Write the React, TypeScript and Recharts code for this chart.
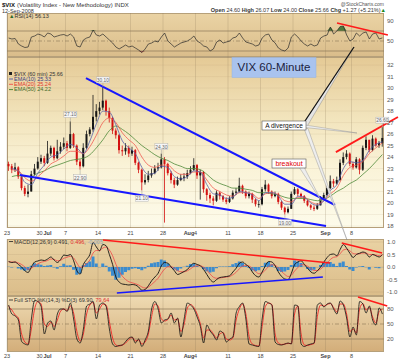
import {
  Area,
  Bar,
  ComposedChart,
  Line,
  ReferenceDot,
  ReferenceLine,
  XAxis,
  YAxis,
} from "recharts"

const FONT = '"Liberation Sans", Arial, sans-serif'

// ---- data: 60-minute bars, two points per trading day (x = trading day) ----
const firstOpen = 23.4
const closes = [
  23.2, 22.9, 23.1, 22.3, 21.3, 20.8, 21.0, 22.5, 23.0, 23.6,
  23.9, 23.5, 24.3, 24.8, 23.9, 24.5, 24.9, 25.2, 24.8, 26.0,
  25.0, 23.6, 23.2, 24.8, 26.0, 26.4, 27.5, 28.0, 28.3, 28.9,
  28.0, 27.4, 26.3, 25.9, 24.6, 24.5, 24.8, 24.3, 24.6, 23.5,
  22.9, 21.8, 22.0, 22.4, 22.6, 23.0, 23.1, 23.8, 23.4, 22.6,
  22.0, 21.6, 22.0, 22.2, 22.3, 22.6, 22.9, 23.3, 22.4, 22.7,
  21.2, 20.7, 20.4, 20.2, 20.9, 20.6, 20.3, 20.1, 20.4, 20.9,
  21.0, 21.5, 21.0, 20.6, 20.8, 20.3, 19.9, 19.9, 21.2, 21.6,
  21.0, 20.6, 20.8, 20.1, 19.6, 19.2, 19.5, 20.8, 21.2, 20.8,
  20.6, 20.2, 19.8, 19.6, 19.5, 19.8, 20.4, 20.7, 21.3, 21.9,
  21.7, 22.0, 23.5, 24.0, 24.3, 23.4, 23.1, 23.8, 22.9, 24.8,
  25.5, 24.6, 25.6, 25.0, 25.2, 25.66,
]
const highs = [
  23.6, 23.4, 23.5, 23.2, 22.4, 21.5, 21.6, 22.8, 23.4, 24.0,
  24.2, 24.1, 25.4, 25.0, 24.9, 25.5, 25.3, 25.7, 25.4, 27.1,
  26.1, 25.1, 23.8, 25.2, 26.3, 26.6, 29.4, 28.6, 28.8, 30.1,
  29.0, 28.3, 27.5, 26.5, 26.0, 25.0, 25.2, 25.0, 24.9, 24.7,
  23.6, 23.0, 22.5, 22.8, 23.0, 23.3, 23.5, 24.3, 24.0, 23.5,
  22.8, 22.2, 22.3, 22.5, 22.6, 22.9, 23.2, 23.9, 23.4, 22.9,
  22.8, 21.3, 20.9, 20.6, 21.1, 21.0, 20.7, 20.5, 20.6, 21.1,
  21.3, 22.2, 21.6, 21.1, 21.0, 20.9, 20.4, 20.2, 21.4, 22.0,
  21.7, 21.1, 21.0, 20.9, 20.2, 19.7, 19.7, 21.0, 21.4, 21.3,
  20.9, 20.7, 20.3, 19.9, 19.8, 20.0, 20.6, 20.9, 21.5, 22.4,
  22.1, 22.3, 23.8, 24.4, 24.6, 24.4, 23.6, 24.0, 23.9, 25.0,
  25.8, 25.5, 25.9, 25.7, 25.4, 26.6,
]
const lows = [
  22.8, 22.6, 22.7, 22.1, 21.1, 20.6, 20.5, 21.0, 22.4, 22.9,
  23.4, 23.2, 23.4, 24.1, 23.7, 23.8, 24.3, 24.7, 24.5, 24.7,
  24.8, 23.3, 22.9, 23.1, 24.7, 25.8, 26.2, 27.1, 27.7, 28.1,
  27.6, 27.0, 26.0, 25.6, 24.3, 24.1, 24.2, 24.0, 24.1, 23.3,
  22.6, 21.1, 21.6, 21.8, 22.2, 22.5, 22.8, 23.0, 18.3, 22.4,
  21.7, 21.3, 21.5, 21.9, 21.9, 22.1, 22.5, 22.8, 22.1, 20.3,
  20.9, 20.2, 20.0, 19.8, 20.1, 20.3, 20.1, 19.9, 20.0, 20.3,
  20.7, 20.9, 20.8, 20.4, 20.4, 20.0, 19.7, 19.6, 19.8, 21.0,
  20.8, 20.4, 20.5, 19.9, 19.4, 19.0, 19.1, 19.5, 20.7, 20.6,
  20.4, 20.0, 19.7, 19.4, 19.3, 19.4, 19.8, 20.3, 20.6, 21.2,
  21.4, 21.6, 21.9, 23.3, 23.8, 23.2, 22.9, 23.0, 22.5, 22.8,
  24.6, 24.4, 24.5, 24.9, 24.8, 24.9,
]

// moving averages, one value per trading day (end of day)
const ema10 = [
  23.0, 22.8, 21.8, 21.6, 22.6, 23.3, 24.0, 24.2, 24.7, 25.1,
  24.8, 24.3, 25.4, 26.9, 28.0, 27.9, 26.8, 25.4, 24.8, 24.3,
  23.1, 22.5, 22.6, 23.2, 23.1, 22.3, 22.1, 22.3, 22.8, 22.7,
  21.6, 20.8, 20.7, 20.4, 20.5, 21.0, 20.9, 20.7, 20.2, 20.9,
  20.9, 20.6, 19.9, 19.9, 20.6, 20.5, 20.0, 19.8, 20.2, 21.1,
  21.6, 23.0, 23.6, 23.5, 23.7, 24.6, 25.1, 25.33,
]
const ema20 = [
  22.9, 22.8, 22.2, 21.9, 22.3, 22.8, 23.4, 23.7, 24.1, 24.5,
  24.5, 24.3, 24.9, 25.9, 27.0, 27.4, 27.0, 26.1, 25.5, 25.0,
  24.0, 23.3, 23.1, 23.3, 23.3, 22.8, 22.5, 22.5, 22.7, 22.7,
  22.0, 21.3, 21.0, 20.7, 20.6, 20.9, 20.9, 20.8, 20.4, 20.8,
  20.9, 20.7, 20.2, 20.1, 20.5, 20.5, 20.1, 19.9, 20.2, 20.8,
  21.3, 22.4, 23.1, 23.3, 23.6, 24.3, 24.8, 25.24,
]
const ema50 = [
  22.3, 22.4, 22.3, 22.3, 22.6, 22.8, 23.1, 23.3, 23.5, 23.7,
  23.8, 23.9, 24.2, 24.8, 25.5, 26.3, 26.7, 26.4, 26.0, 25.5,
  25.0, 24.6, 24.2, 23.9, 23.7, 23.4, 23.2, 23.0, 23.0, 22.9,
  22.5, 22.0, 21.7, 21.5, 21.3, 21.3, 21.2, 21.1, 20.9, 20.9,
  20.8, 20.7, 20.5, 20.4, 20.4, 20.4, 20.3, 20.2, 20.3, 20.6,
  21.0, 21.3, 21.7, 22.0, 22.5, 23.0, 23.6, 24.22,
]

const rsi = [
  56, 54, 55, 44, 40, 37, 38, 58, 60, 64,
  62, 58, 66, 64, 58, 60, 62, 63, 60, 64,
  58, 40, 38, 52, 56, 58, 72, 62, 60, 64,
  58, 52, 46, 38, 34, 38, 42, 38, 40, 36,
  32, 27, 34, 44, 46, 50, 48, 58, 66, 50,
  44, 38, 42, 46, 48, 50, 54, 60, 50, 46,
  40, 38, 30, 34, 48, 52, 46, 48, 50, 56,
  58, 66, 56, 48, 46, 44, 40, 42, 56, 62,
  64, 52, 46, 36, 32, 30, 36, 58, 64, 58,
  50, 44, 40, 44, 40, 42, 56, 60, 62, 78,
  64, 70, 79, 80, 62, 50, 54, 66, 60, 66,
  68, 54, 64, 66, 54, 56.13,
]

const macd = [
  0.22, 0.18, 0.2, 0.1, 0.0, -0.15, -0.22, 0.0, 0.2, 0.24,
  0.28, 0.26, 0.32, 0.4, 0.28, 0.18, 0.3, 0.48, 0.45, 0.5,
  0.25, -0.15, -0.28, 0.1, 0.3, 0.5, 0.98, 0.8, 0.65, 0.9,
  0.85, 0.5, 0.1, -0.4, -0.6, -0.68, -0.7, -0.72, -0.7, -0.72,
  -0.8, -0.93, -0.9, -0.75, -0.55, -0.4, -0.25, 0.05, 0.18, 0.15,
  0.0, -0.15, -0.3, -0.25, -0.18, -0.1, 0.05, 0.15, 0.1, 0.05,
  -0.1, -0.3, -0.5, -0.6, -0.5, -0.42, -0.4, -0.38, -0.35, -0.2,
  -0.05, 0.15, 0.2, 0.1, 0.0, -0.2, -0.35, -0.4, -0.2, 0.05,
  0.22, 0.2, 0.05, -0.2, -0.38, -0.48, -0.5, -0.25, 0.1, 0.2,
  0.25, 0.1, -0.05, -0.2, -0.25, -0.15, 0.0, 0.2, 0.38, 0.5,
  0.52, 0.45, 0.7, 0.9, 0.75, 0.55, 0.38, 0.5, 0.55, 0.6,
  0.55, 0.4, 0.5, 0.45, 0.4, 0.491,
]
const signal = [
  0.21, 0.2, 0.2, 0.16, 0.1, 0.0, -0.09, -0.05, 0.05, 0.13,
  0.19, 0.22, 0.26, 0.32, 0.3, 0.25, 0.27, 0.35, 0.39, 0.43,
  0.36, 0.16, -0.02, 0.03, 0.14, 0.28, 0.56, 0.66, 0.66, 0.76,
  0.8, 0.68, 0.45, 0.11, -0.17, -0.37, -0.5, -0.59, -0.63, -0.67,
  -0.72, -0.8, -0.84, -0.8, -0.7, -0.58, -0.45, -0.25, -0.08, 0.01,
  0.01, -0.05, -0.15, -0.19, -0.19, -0.15, -0.07, 0.02, 0.05, 0.05,
  -0.01, -0.13, -0.28, -0.41, -0.45, -0.44, -0.42, -0.4, -0.38, -0.31,
  -0.21, -0.07, 0.04, 0.06, 0.04, -0.06, -0.18, -0.27, -0.24, -0.12,
  0.02, 0.09, 0.07, -0.04, -0.18, -0.3, -0.38, -0.33, -0.16, -0.02,
  0.09, 0.09, 0.03, -0.06, -0.14, -0.14, -0.08, 0.03, 0.17, 0.3,
  0.39, 0.41, 0.53, 0.68, 0.71, 0.65, 0.54, 0.52, 0.53, 0.56,
  0.56, 0.5, 0.5, 0.48, 0.45, 0.496,
]

const stoK = [
  88, 70, 66, 58, 15, 10, 8, 60, 97, 95,
  85, 30, 52, 56, 38, 70, 80, 80, 75, 92,
  60, 20, 12, 40, 86, 90, 95, 60, 88, 92,
  85, 40, 10, 5, 7, 8, 15, 22, 24, 12,
  20, 5, 18, 36, 80, 95, 80, 52, 58, 60,
  72, 52, 62, 24, 60, 92, 88, 80, 64, 45,
  12, 48, 36, 28, 18, 36, 32, 14, 20, 24,
  72, 85, 92, 60, 10, 8, 6, 5, 60, 95,
  92, 88, 14, 9, 8, 10, 12, 10, 88, 86,
  10, 5, 8, 10, 12, 88, 92, 84, 90, 92,
  80, 70, 96, 88, 62, 24, 44, 28, 95, 90,
  72, 86, 58, 48, 82, 69.9,
]
const stoD = [
  85, 78, 68, 62, 30, 14, 10, 40, 80, 95,
  90, 50, 45, 54, 45, 58, 76, 80, 77, 86,
  72, 35, 16, 30, 70, 88, 93, 72, 80, 90,
  88, 55, 22, 8, 6, 8, 12, 19, 23, 16,
  18, 10, 14, 30, 65, 90, 86, 60, 56, 59,
  68, 58, 60, 35, 50, 82, 89, 83, 70, 50,
  22, 38, 38, 30, 22, 30, 33, 20, 18, 22,
  58, 80, 90, 70, 25, 10, 7, 6, 45, 85,
  92, 89, 30, 12, 9, 10, 11, 11, 70, 86,
  30, 8, 7, 9, 11, 65, 88, 86, 89, 91,
  83, 74, 90, 90, 70, 35, 40, 32, 80, 91,
  78, 83, 64, 52, 75, 79.64,
]

// axis ticks (x = trading day since 23 Jun)
const weekDays = [0, 5, 9, 14, 19, 24, 29, 34, 39, 44, 49, 53]
const dateTicks = [0, 5, 6, 9, 14, 19, 24, 28, 29, 34, 39, 44, 49, 53]
const dateTickLabels = ["23", "30", "Jul", "7", "14", "21", "28", "Aug", "4", "11", "18", "25", "Sep", "8"]
const monthLabels = ["Jul", "Aug", "Sep"]
const priceTicks = [18, 19, 20, 21, 22, 23, 24, 25, 26, 27, 28, 29, 30, 31, 32]
const rsiTicks = [30, 50, 70, 90]
const macdTicks = [-1, -0.5, 0, 0.5, 1]
const stoTicks = [20, 50, 80]

// bars whose high / low carry a value tag
const tagBars = [19, 22, 29, 41, 47, 85, 115]
const tagKinds = ["high", "low", "high", "low", "high", "low", "high"]

// hand-drawn trendlines, in data units
const priceUpper = [{ x: 12.15, y: 30.87 }, { x: 50.46, y: 19.83 }]
const priceLower = [{ x: 2.0, y: 22.43 }, { x: 49.08, y: 18.0 }]
const priceRising = [{ x: 50.6, y: 24.43 }, { x: 60.15, y: 27.48 }]
const rsiFalling = [{ x: 50.77, y: 86 }, { x: 58.6, y: 62 }]
const macdUpper = [{ x: 14.77, y: 1.08 }, { x: 49.7, y: 0.16 }]
const macdLower = [{ x: 16.9, y: -1.04 }, { x: 48.6, y: -0.4 }]
const macdFalling = [{ x: 51.5, y: 0.96 }, { x: 57.7, y: 0.56 }]
const stoFalling = [{ x: 54.0, y: 104 }, { x: 58.5, y: 86 }]

const rows = closes.map((close, i) => {
  const day = Math.floor(i / 2)
  const endOfDay = i % 2 === 1
  return {
    x: i * 0.5 + 0.25,
    open: i === 0 ? firstOpen : closes[i - 1],
    high: highs[i],
    low: lows[i],
    close,
    ema10: endOfDay ? ema10[day] : null,
    ema20: endOfDay ? ema20[day] : null,
    ema50: endOfDay ? ema50[day] : null,
    rsi: rsi[i],
    rsiHi: Math.max(rsi[i], 70),
    rsiLo: Math.min(rsi[i], 30),
    macd: macd[i],
    signal: signal[i],
    hist: macd[i] - signal[i],
    k: stoK[i],
    d: stoD[i],
  }
})

const X_DOMAIN: [number, number] = [0, 58]
const MARGIN = { top: 0, right: 0, bottom: 0, left: 7 }
const tickStyle = { fontSize: 6, fill: "#555", fontFamily: FONT }
const GRID = "rgba(130,110,80,0.35)"

function weekLines() {
  return weekDays.map((d) => (
    <ReferenceLine key={"w" + d} x={d} stroke={GRID} strokeWidth={0.6} />
  ))
}

function DateTick(props: any) {
  const { x, y, payload } = props
  const label = dateTickLabels[dateTicks.indexOf(payload.value)]
  const month = monthLabels.includes(label)
  return (
    <text
      x={x}
      y={y}
      dy={4}
      dx={label === "Jul" ? 1.5 : 0}
      textAnchor="middle"
      fontSize={5.5}
      fontWeight={month ? "bold" : "normal"}
      fill="#444"
      fontFamily={FONT}
    >
      {label}
    </text>
  )
}

function Candle(props: any) {
  const { x, y, width, height, payload } = props
  if (x == null || !payload) return null
  const top = Math.min(y, y + height)
  const h = Math.abs(height)
  const { open, close, high, low } = payload
  const k = h / Math.max(high - low, 0.01)
  const py = (v: number) => top + (high - v) * k
  const cx = x + width / 2
  const color = close >= open ? "#161616" : "#d41010"
  const b0 = py(Math.max(open, close))
  const b1 = py(Math.min(open, close))
  return (
    <g>
      <line x1={cx} x2={cx} y1={top} y2={top + h} stroke={color} strokeWidth={0.8} />
      <rect x={cx - 1} y={b0} width={2} height={Math.max(b1 - b0, 0.8)} fill={color} />
    </g>
  )
}

function ValueTag({ cx, cy, text, below }: any) {
  if (cx == null) return null
  const ty = below ? cy + 8 : cy - 7
  return (
    <g>
      <line x1={cx} x2={cx} y1={cy} y2={ty} stroke="#999" strokeWidth={0.5} />
      <rect x={cx - 6.5} y={ty - 3} width={13} height={6} fill="#f6f6f6" stroke="#aaa" strokeWidth={0.4} />
      <text x={cx} y={ty + 2} fontSize={4.8} textAnchor="middle" fill="#666" fontFamily={FONT}>
        {text}
      </text>
    </g>
  )
}

function panel(top: number, height: number, bg: string) {
  return (
    <div
      style={{
        position: "absolute",
        left: 7,
        top,
        width: 377,
        height,
        background: bg,
        boxSizing: "border-box",
        border: "1px solid #b6a07a",
      }}
    />
  )
}

function at(top: number, child: any) {
  return <div style={{ position: "absolute", left: 0, top }}>{child}</div>
}

export default function App() {
  return (
    <div
      style={{
        position: "absolute",
        left: 0,
        top: 0,
        width: 400,
        height: 360,
        background: "#fff",
        overflow: "hidden",
        fontFamily: FONT,
      }}
    >
      {panel(13, 44, "linear-gradient(#ead3a4, #dabd8b)")}
      {panel(57, 171, "linear-gradient(#e5ca96 0%, #f2e4bc 35%, #faf3d8 65%, #fdfbea 100%)")}
      {panel(239, 57, "linear-gradient(#e9d2a3, #dbbd8a)")}
      {panel(296, 56, "linear-gradient(#eedab2, #d3ae7a)")}

      {at(
        13,
        <ComposedChart width={400} height={44} data={rows} margin={MARGIN}>
          <XAxis type="number" dataKey="x" domain={X_DOMAIN} hide allowDataOverflow />
          <YAxis
            orientation="right"
            width={16}
            domain={[18, 106]}
            allowDataOverflow
            ticks={rsiTicks}
            tick={tickStyle}
            tickLine={false}
            axisLine={false}
            tickSize={2}
            tickMargin={1}
          />
          {weekLines()}
          <ReferenceLine y={70} stroke="#8a7656" strokeWidth={0.7} />
          <ReferenceLine y={30} stroke="#8a7656" strokeWidth={0.7} />
          <ReferenceLine y={50} stroke="#8a7656" strokeWidth={0.6} strokeDasharray="4 2 1 2" />
          <Area
            type="linear"
            dataKey="rsiHi"
            baseValue={70}
            stroke="none"
            fill="#3d7030"
            fillOpacity={0.9}
            isAnimationActive={false}
          />
          <Area
            type="linear"
            dataKey="rsiLo"
            baseValue={30}
            stroke="none"
            fill="#b84040"
            fillOpacity={0.8}
            isAnimationActive={false}
          />
          <Line type="linear" dataKey="rsi" stroke="#2a2a2a" strokeWidth={0.7} dot={false} isAnimationActive={false} />
          <ReferenceLine segment={rsiFalling} stroke="#ff1a1a" strokeWidth={1.6} ifOverflow="visible" />
        </ComposedChart>,
      )}

      {at(
        57,
        <ComposedChart width={400} height={182} data={rows} margin={MARGIN}>
          <XAxis
            type="number"
            dataKey="x"
            domain={X_DOMAIN}
            allowDataOverflow
            ticks={dateTicks}
            interval={0}
            tick={<DateTick />}
            tickLine={false}
            axisLine={false}
            tickSize={2}
            tickMargin={1}
            height={11}
          />
          <YAxis
            orientation="right"
            width={16}
            domain={[17.83, 32.7]}
            allowDataOverflow
            ticks={priceTicks}
            interval={0}
            tick={tickStyle}
            tickLine={false}
            axisLine={false}
            tickSize={2}
            tickMargin={1}
          />
          {weekLines()}
          {priceTicks.map((v) => (
            <ReferenceLine key={"p" + v} y={v} stroke="rgba(160,140,100,0.22)" strokeWidth={0.5} />
          ))}
          <Line type="monotone" dataKey="ema50" stroke="#4f8a3a" strokeWidth={0.8} dot={false} connectNulls isAnimationActive={false} />
          <Line type="monotone" dataKey="ema20" stroke="#f05a50" strokeWidth={0.8} dot={false} connectNulls isAnimationActive={false} />
          <Line type="monotone" dataKey="ema10" stroke="#5a62a8" strokeWidth={0.8} dot={false} connectNulls isAnimationActive={false} />
          <Bar
            dataKey={(r: any) => [r.low, r.high]}
            barSize={3}
            shape={<Candle />}
            isAnimationActive={false}
          />
          {tagBars.map((i, n) => {
            const below = tagKinds[n] === "low"
            const v = below ? lows[i] : highs[i]
            return (
              <ReferenceDot
                key={"t" + i}
                x={rows[i].x}
                y={v}
                r={0}
                ifOverflow="visible"
                shape={(s: any) => <ValueTag cx={s.cx} cy={s.cy} text={v.toFixed(2)} below={below} />}
              />
            )
          })}
          <ReferenceLine segment={priceUpper} stroke="#1717ff" strokeWidth={2} ifOverflow="visible" />
          <ReferenceLine segment={priceLower} stroke="#1717ff" strokeWidth={2} ifOverflow="visible" />
          <ReferenceLine segment={priceRising} stroke="#ff1a1a" strokeWidth={1.8} ifOverflow="visible" />
        </ComposedChart>,
      )}

      {at(
        239,
        <ComposedChart width={400} height={57} data={rows} margin={MARGIN}>
          <XAxis type="number" dataKey="x" domain={X_DOMAIN} hide allowDataOverflow />
          <YAxis
            orientation="right"
            width={16}
            domain={[-1.16, 1.12]}
            allowDataOverflow
            ticks={macdTicks}
            interval={0}
            tickFormatter={(v: number) => v.toFixed(1)}
            tick={tickStyle}
            tickLine={false}
            axisLine={false}
            tickSize={2}
            tickMargin={1}
          />
          {weekLines()}
          {macdTicks.map((v) => (
            <ReferenceLine key={"m" + v} y={v} stroke="rgba(140,120,90,0.25)" strokeWidth={0.5} />
          ))}
          <Bar dataKey="hist" barSize={3} fill="#3a8cd0" isAnimationActive={false} />
          <Line type="monotone" dataKey="signal" stroke="#f04848" strokeWidth={0.8} dot={false} isAnimationActive={false} />
          <Line type="monotone" dataKey="macd" stroke="#111" strokeWidth={0.9} dot={false} isAnimationActive={false} />
          <ReferenceLine segment={macdUpper} stroke="#ff1a1a" strokeWidth={1.6} ifOverflow="visible" />
          <ReferenceLine segment={macdLower} stroke="#1717ff" strokeWidth={1.6} ifOverflow="visible" />
          <ReferenceLine segment={macdFalling} stroke="#ff1a1a" strokeWidth={1.6} ifOverflow="visible" />
        </ComposedChart>,
      )}

      {at(
        296,
        <ComposedChart width={400} height={64} data={rows} margin={MARGIN}>
          <XAxis
            type="number"
            dataKey="x"
            domain={X_DOMAIN}
            allowDataOverflow
            ticks={dateTicks}
            interval={0}
            tick={<DateTick />}
            tickLine={false}
            axisLine={false}
            tickSize={1}
            tickMargin={1}
            height={8}
          />
          <YAxis
            orientation="right"
            width={16}
            domain={[-6, 106]}
            allowDataOverflow
            ticks={stoTicks}
            tick={tickStyle}
            tickLine={false}
            axisLine={false}
            tickSize={2}
            tickMargin={1}
          />
          {weekLines()}
          <ReferenceLine y={80} stroke="#8a7656" strokeWidth={0.7} />
          <ReferenceLine y={20} stroke="#8a7656" strokeWidth={0.7} />
          <ReferenceLine y={50} stroke="#8a7656" strokeWidth={0.6} strokeDasharray="4 2 1 2" />
          <Line type="monotone" dataKey="d" stroke="#f02a2a" strokeWidth={0.9} dot={false} isAnimationActive={false} />
          <Line type="monotone" dataKey="k" stroke="#111" strokeWidth={0.8} dot={false} isAnimationActive={false} />
          <ReferenceLine segment={stoFalling} stroke="#ff1a1a" strokeWidth={1.6} ifOverflow="visible" />
        </ComposedChart>,
      )}

      <svg
        width={400}
        height={360}
        style={{ position: "absolute", left: 0, top: 0, pointerEvents: "none" }}
        fontFamily={FONT}
      >
        {/* header */}
        <text x={2} y={7} fontSize={6} fill="#333">
          <tspan fontWeight="bold" fill="#111">$VIX</tspan>
          <tspan dx={2}>(Volatility Index - New Methodology) INDX</tspan>
        </text>
        <text x={2} y={12.5} fontSize={5.5} fill="#333">12-Sep-2008</text>
        <text x={384} y={6} fontSize={5} fill="#555" textAnchor="end">@StockCharts.com</text>
        <text x={386} y={12} fontSize={5.5} fill="#333" textAnchor="end">
          <tspan fontWeight="bold">Open</tspan> 24.60 <tspan fontWeight="bold">High</tspan> 26.07{" "}
          <tspan fontWeight="bold">Low</tspan> 24.00 <tspan fontWeight="bold">Close</tspan> 25.66{" "}
          <tspan fontWeight="bold">Chg</tspan> +1.27 (+5.21%)<tspan fill="#1d8a1d">▲</tspan>
        </text>

        {/* panel legends */}
        <text x={9} y={18} fontSize={5.5} fill="#333">
          <tspan fill="#2c6a26">▲</tspan>RSI(14) 56.13
        </text>
        <rect x={9} y={72} width={3} height={3} fill="#222" />
        <text x={14} y={75.5} fontSize={5.5} fill="#333">$VIX (60 min) 25.66</text>
        <line x1={9} x2={13} y1={79} y2={79} stroke="#5a62a8" strokeWidth={1} />
        <text x={14} y={80.8} fontSize={5.5} fill="#3a3f80">EMA(10) 25.33</text>
        <line x1={9} x2={13} y1={84.3} y2={84.3} stroke="#f05a50" strokeWidth={1} />
        <text x={14} y={86.1} fontSize={5.5} fill="#e03a30">EMA(20) 25.24</text>
        <line x1={9} x2={13} y1={89.6} y2={89.6} stroke="#4f8a3a" strokeWidth={1} />
        <text x={14} y={91.4} fontSize={5.5} fill="#3f6a2a">EMA(50) 24.22</text>
        <line x1={9} x2={13} y1={241.5} y2={241.5} stroke="#222" strokeWidth={0.8} />
        <text x={14} y={243.5} fontSize={5.5} fill="#333">
          MACD(12,26,9) 0.491, <tspan fill="#e03030">0.496</tspan>, <tspan fill="#8fa8c0">-0.005</tspan>
        </text>
        <line x1={9} x2={13} y1={300} y2={300} stroke="#222" strokeWidth={0.8} />
        <text x={14} y={302} fontSize={5.5} fill="#333">
          Full STO %K(14,3) %D(3) 69.90, <tspan fill="#e03030">79.64</tspan>
        </text>

        {/* callouts */}
        <polygon points="303,124 307,126.5 354,47" fill="#e4e4e4" stroke="#777" strokeWidth={0.4} />
        <line x1={303} y1={124} x2={354} y2={47} stroke="#111" strokeWidth={1.2} />
        <polygon points="305,125 305,127.5 357,133" fill="#eeeeee" stroke="#888" strokeWidth={0.4} />
        <polygon points="304,128.5 308,128.5 347,240" fill="#eeeeee" stroke="#888" strokeWidth={0.4} />
        <polygon points="299,167 304,167 322,202" fill="#eeeeee" stroke="#888" strokeWidth={0.4} />

        <rect x={232} y={57.5} width={84} height={20} fill="#a9c3ee" stroke="#93b2e2" strokeWidth={0.5} />
        <text x={274} y={71} textAnchor="middle" fontSize={11.5} fill="#1b2240">VIX 60-Minute</text>
        <rect x={262} y={121} width={44} height={9} fill="#fff" stroke="#555" strokeWidth={0.6} />
        <text x={284} y={128} textAnchor="middle" fontSize={6.5} fill="#111">A divergence</text>
        <rect x={272} y={159} width={34} height={9} fill="#fff" stroke="#555" strokeWidth={0.6} />
        <text x={289} y={166.3} textAnchor="middle" fontSize={7} fill="#e00000">breakout</text>
      </svg>
    </div>
  )
}
